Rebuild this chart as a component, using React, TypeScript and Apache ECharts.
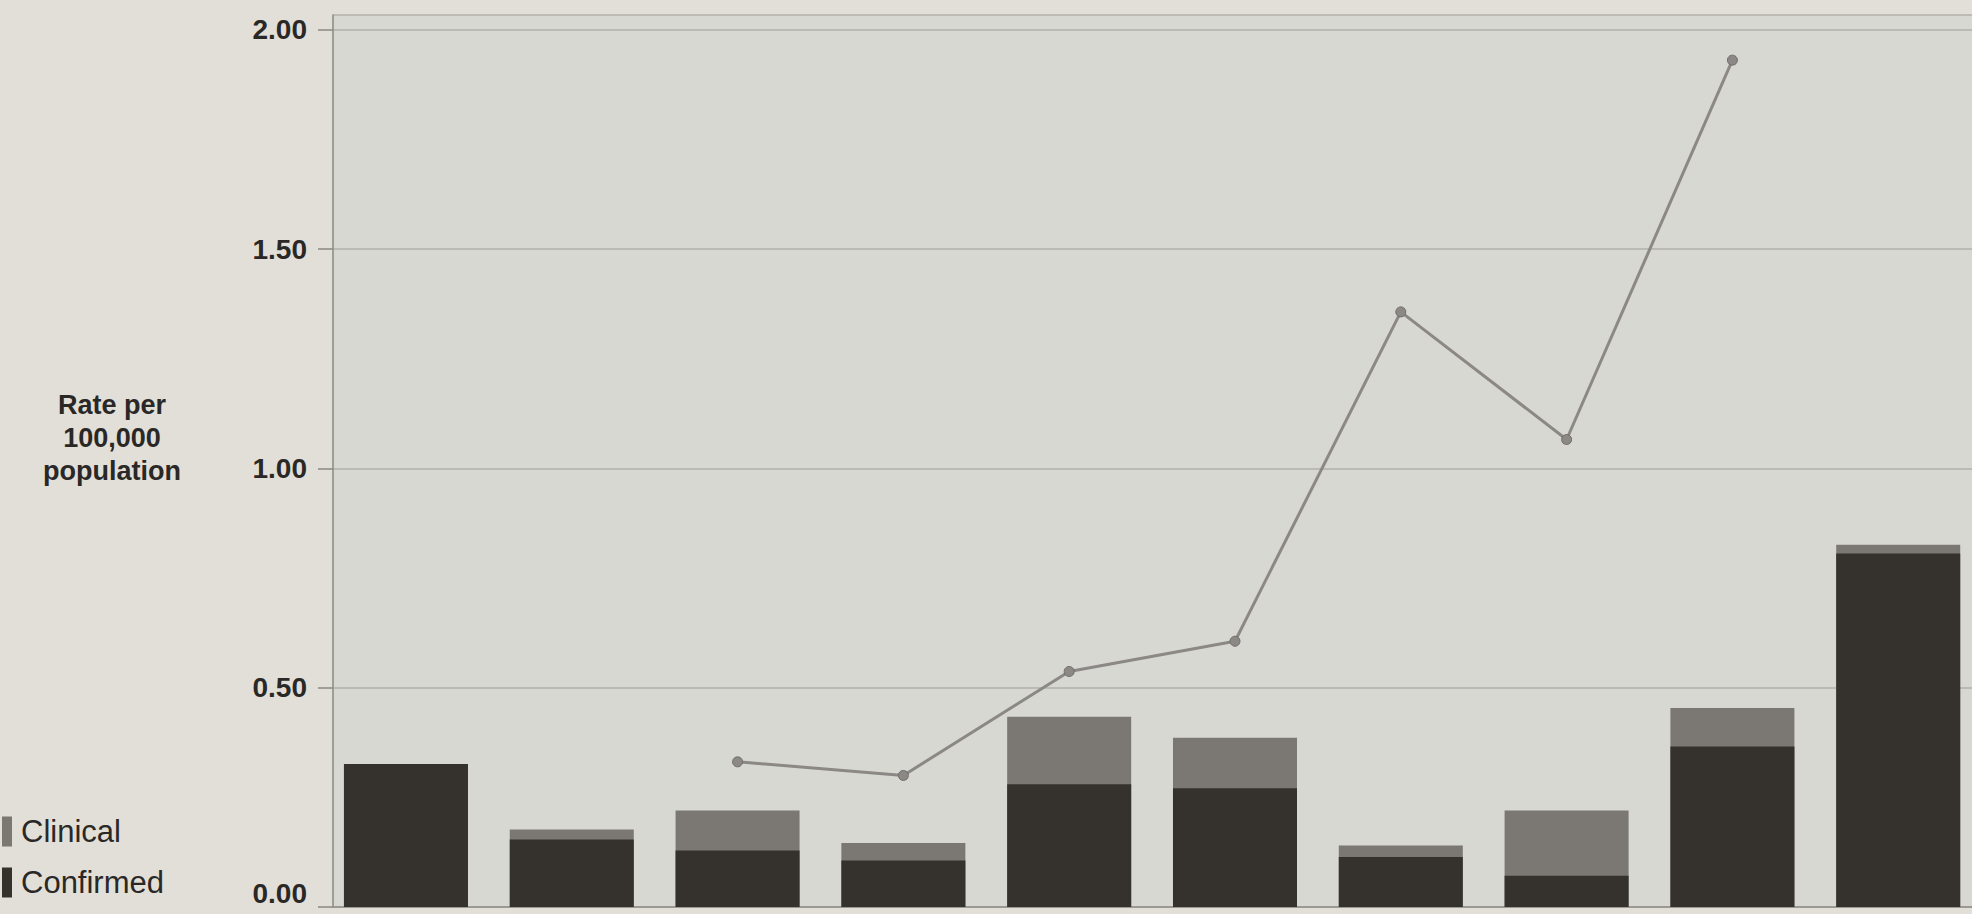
import React, { useEffect, useRef } from "react";
import * as echarts from "echarts";

const categories = ["1", "2", "3", "4", "5", "6", "7", "8", "9", "10"];
const confirmed = [0.326, 0.154, 0.129, 0.106, 0.28, 0.271, 0.114, 0.071, 0.366, 0.806];
const clinical = [0.0, 0.023, 0.091, 0.04, 0.154, 0.115, 0.026, 0.149, 0.088, 0.02];
const rateLine = [null, null, 0.331, 0.3, 0.537, 0.606, 1.357, 1.066, 1.931, null];
const yTicks = [0, 0.5, 1.0, 1.5, 2.0];

export default function App() {
  const ref = useRef<HTMLDivElement>(null);
  useEffect(() => {
    document.body.style.margin = "0";
    const chart = echarts.init(ref.current!, null, { renderer: "svg" });
    const pairs = (arr: (number | null)[]) =>
      arr.map((v, i) => (v === null ? null : [i, v])).filter((p) => p !== null);
    // clinical sits on top of confirmed: draw the stacked total behind the confirmed part
    const totals = categories.map((_, i) => confirmed[i] + clinical[i]);
    chart.setOption({
      animation: false,
      backgroundColor: "#e2dfd8",
      grid: {
        left: 333,
        right: 0,
        top: 15,
        bottom: 7,
        show: true,
        backgroundColor: "#d8d8d2",
        borderWidth: 0,
        outerBoundsMode: "none",
      },
      legend: {
        orient: "vertical",
        left: -3,
        top: 811,
        data: ["Clinical", "Confirmed"],
        icon: "rect",
        itemWidth: 10,
        itemHeight: 30,
        itemGap: 20,
        textStyle: { fontFamily: "Liberation Sans", fontSize: 31, color: "#2a2826", padding: [0, 0, 0, 4] },
      },
      xAxis: {
        type: "value",
        min: -0.44,
        max: 9.445,
        axisLine: { show: true, onZero: false, lineStyle: { color: "#9a9994", width: 2 } },
        axisTick: { show: false },
        axisLabel: { show: false },
        splitLine: { show: false },
      },
      yAxis: {
        type: "value",
        min: 0,
        max: 2.034,
        interval: 0.5,
        axisLine: { show: true, onZero: false, lineStyle: { color: "#8a8985", width: 1.5 } },
        axisTick: { show: true, length: 15, lineStyle: { color: "#8a8985", width: 1.5 } },
        axisLabel: {
          margin: 26,
          showMaxLabel: false,
          verticalAlignMinLabel: "bottom",
          fontFamily: "Liberation Sans",
          fontWeight: "bold",
          fontSize: 28,
          color: "#2a2826",
          formatter: (v: number) =>
            yTicks.some((t) => Math.abs(t - v) < 1e-6) ? v.toFixed(2) : "",
        },
        splitLine: { show: true, lineStyle: { color: "#b2b1ab", width: 1.5 } },
      },
      graphic: [
        {
          type: "text",
          x: 112,
          y: 388,
          style: {
            text: "Rate per\n100,000\npopulation",
            fontFamily: "Liberation Sans",
            fontWeight: "bold",
            fontSize: 27,
            lineHeight: 33,
            align: "center",
            verticalAlign: "top",
            fill: "#2a2826",
          },
        },
      ],
      series: [
        {
          name: "Clinical",
          type: "bar",
          barWidth: 124,
          barGap: "-100%",
          data: pairs(totals),
          itemStyle: { color: "#7b7772" },
          z: 2,
        },
        {
          name: "Confirmed",
          type: "bar",
          barWidth: 124,
          barGap: "-100%",
          data: pairs(confirmed),
          itemStyle: { color: "#35322d" },
          z: 3,
        },
        {
          name: "Rate",
          type: "line",
          data: pairs(rateLine),
          symbol: "circle",
          symbolSize: 10,
          lineStyle: { color: "#8b8885", width: 3 },
          itemStyle: { color: "#8b8885", borderColor: "#6f6c69", borderWidth: 1 },
          z: 5,
        },
      ],
    });
    return () => chart.dispose();
  }, []);
  return <div ref={ref} style={{ width: 1972, height: 914 }} />;
}
